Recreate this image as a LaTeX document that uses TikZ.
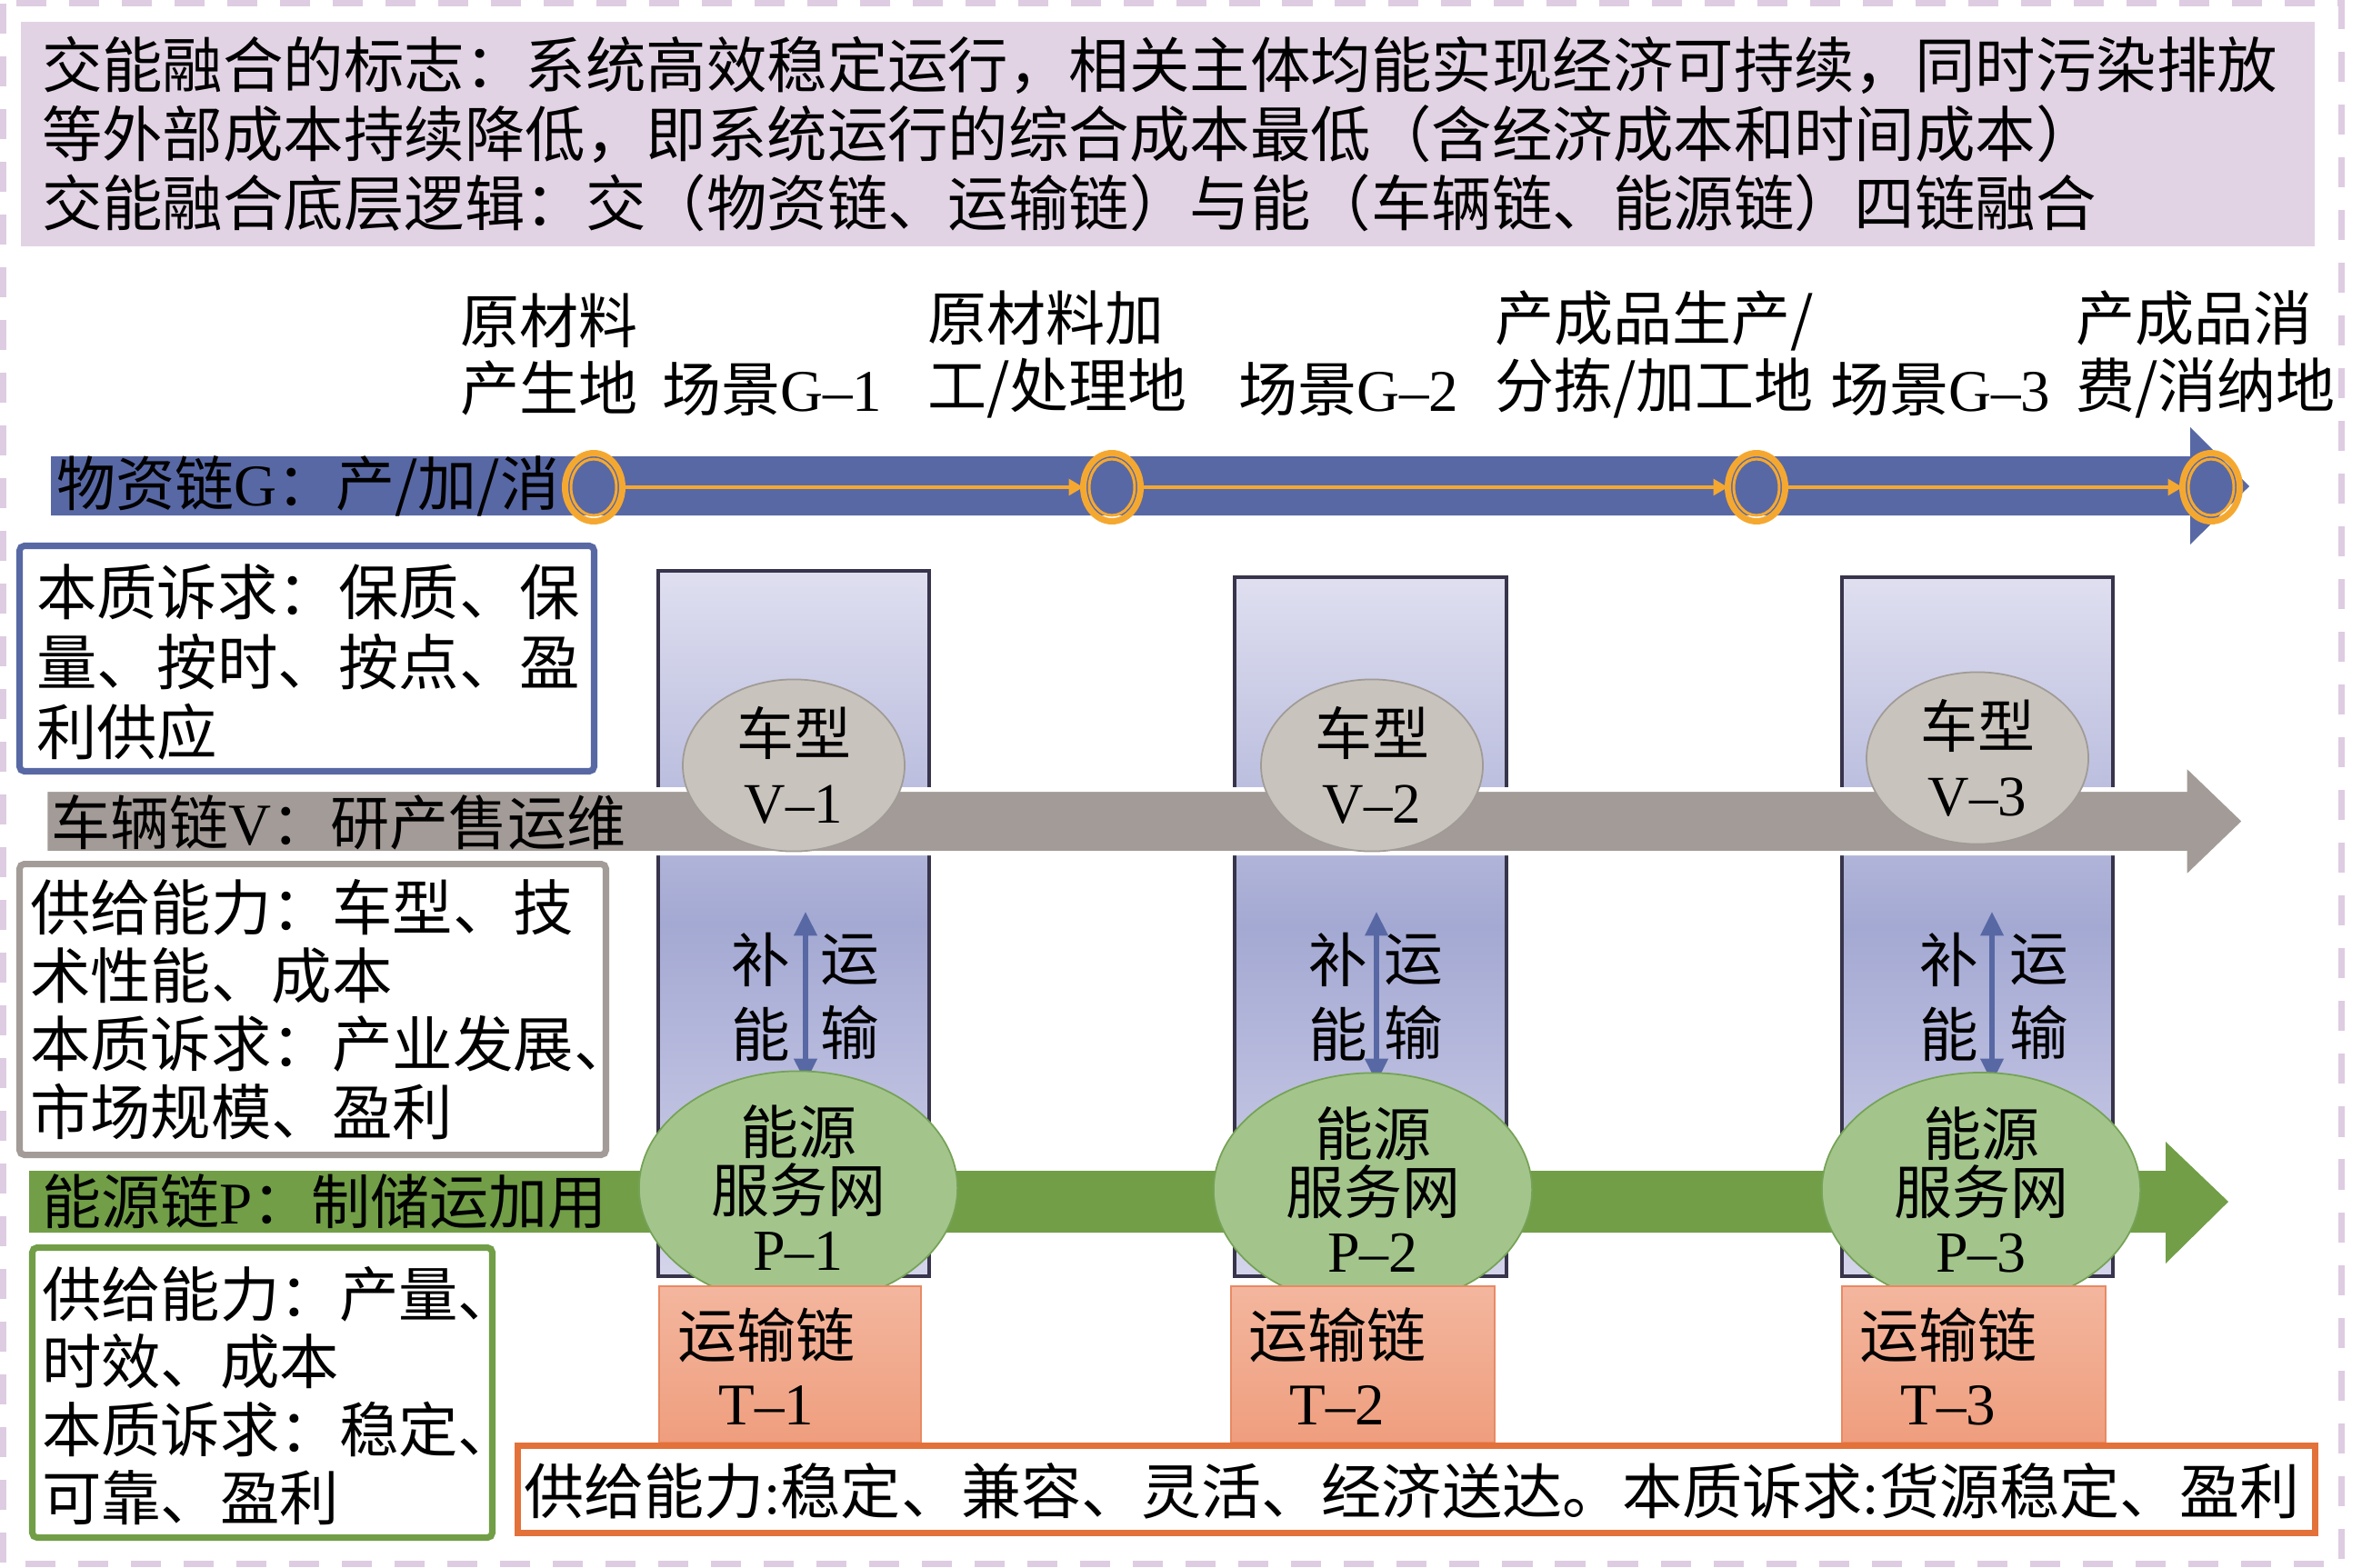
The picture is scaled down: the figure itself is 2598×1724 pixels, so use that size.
\documentclass[tikz,border=0pt]{standalone}
\usepackage{fontspec}
\setmainfont{Noto Sans CJK SC}
\newfontfamily\lat{Liberation Serif}
\usetikzlibrary{arrows.meta,shapes.geometric,fit}
\definecolor{lilac}{RGB}{226,211,228}
\definecolor{dashc}{RGB}{222,204,226}
\definecolor{chainblue}{RGB}{88,104,164}
\definecolor{chaingray}{RGB}{163,155,151}
\definecolor{chaingreen}{RGB}{113,158,71}
\definecolor{ringorange}{RGB}{245,168,48}
\definecolor{salmon}{RGB}{239,158,126}
\definecolor{salmontop}{RGB}{243,182,158}
\definecolor{salmonb}{RGB}{232,138,100}
\definecolor{borderorange}{RGB}{227,113,58}
\definecolor{colborder}{RGB}{55,52,75}
\definecolor{coltop}{RGB}{223,223,240}
\definecolor{colmid}{RGB}{164,169,211}
\definecolor{colbot}{RGB}{212,212,235}
\definecolor{ellgray}{RGB}{201,195,189}
\definecolor{ellgrayb}{RGB}{160,155,150}
\definecolor{ellgreen}{RGB}{163,197,140}
\definecolor{ellgreenb}{RGB}{118,162,86}
\newcommand{\fsTop}{\fontsize{18.9pt}{21.6pt}\selectfont}
\newcommand{\fsMain}{\fontsize{18.5pt}{21pt}\selectfont}
\newcommand{\fsBox}{\fontsize{18.9pt}{21.9pt}\selectfont}
\newcommand{\fsBoxB}{\fontsize{18.9pt}{21.3pt}\selectfont}
\newcommand{\fsBoxC}{\fontsize{18.6pt}{21.3pt}\selectfont}
\newcommand{\fsSum}{\fontsize{18.8pt}{21.3pt}\selectfont}
\newcommand{\fsVeh}{\fontsize{17.9pt}{21.3pt}\selectfont}
\newcommand{\fsNet}{\fontsize{18.2pt}{18.2pt}\selectfont}
\newcommand{\fsSide}{\fontsize{18.4pt}{23.3pt}\selectfont}
\newcommand{\fsTrans}{\fontsize{18.5pt}{21pt}\selectfont}
\begin{document}
\begin{tikzpicture}[x=0.01cm,y=-0.01cm,
  txt/.style={inner sep=0pt,outer sep=0pt,text=black},
  lbl/.style={txt,anchor=west,align=left,font=\fsMain},
  ring/.style={ellipse,draw=ringorange,line width=2pt,minimum width=17.9pt,minimum height=21.3pt,inner sep=0pt,outer sep=0pt},
  innerring/.style={draw=ringorange,line width=0.85pt},
  flowline/.style={ringorange,line width=1pt,-{Triangle[length=4.5pt,width=5pt]}},
  colbox/.style={inner sep=0pt,outer sep=0pt,draw=colborder,line width=1.1pt,top color=coltop,bottom color=colbot,middle color=colmid},
  vell/.style={ellipse,fill=ellgray,draw=ellgrayb,line width=0.5pt,minimum width=69.4pt,minimum height=53.8pt,inner sep=0pt,align=center,font=\fsVeh},
  pell/.style={ellipse,fill=ellgreen,draw=ellgreenb,line width=0.5pt,minimum width=99.6pt,minimum height=54pt,inner sep=0pt,align=center,font=\fsNet},
  sidetxt/.style={txt,align=center,font=\fsSide},
  dblarrow/.style={chainblue,line width=1.5pt,{Triangle[length=7.5pt,width=7pt]}-{Triangle[length=7.5pt,width=7pt]}},
  tbox/.style={inner sep=0pt,outer sep=0pt,draw=salmonb,line width=0.5pt,top color=salmontop,bottom color=salmon},
  ttxt/.style={txt,align=center,font=\fsTrans},
  sidebox/.style={inner sep=0pt,outer sep=0pt,fill=white,line width=2pt,rounded corners=1.5pt}
]
\useasboundingbox (0,0) rectangle (2598,1724);
% outer dashed frame
\draw[dashc,line width=2pt,dash pattern=on 9.4pt off 7.1pt] (3.5,3.5) rectangle (2575.5,1720);

% title box
\node[fit={(23,24) (2546,271)},inner sep=0pt,fill=lilac] (topbox) {};
\node[txt,anchor=west,align=left,font=\fsTop] (toptext) at (46,147.5)
  {交能融合的标志：系统高效稳定运行，相关主体均能实现经济可持续，同时污染排放\\
   等外部成本持续降低，即系统运行的综合成本最低（含经济成本和时间成本）\\
   交能融合底层逻辑：交（物资链、运输链）与能（车辆链、能源链）四链融合};

% stage labels
\node[lbl] (h1) at (506,390) {原材料\\产生地};
\node[lbl] (s1) at (728,428) {场景{\lat G–1}};
\node[lbl] (h2) at (1020,390) {原材料加\\工/处理地};
\node[lbl] (s2) at (1362,428) {场景{\lat G–2}};
\node[lbl] (h3) at (1644,390) {产成品生产/\\分拣/加工地};
\node[lbl] (s3) at (2013,428) {场景{\lat G–3}};
\node[lbl] (h4) at (2283,390) {产成品消\\费/消纳地};

% material chain arrow
\fill[chainblue] (56,502) -- (2409,502) -- (2409,470) -- (2474,535) -- (2409,599) -- (2409,567) -- (56,567) -- cycle;
\node[lbl] (gchain) at (62,535) {物资链{\lat G}：产/加/消};
\node[ring] (g1) at (653,536) {};
\node[ring] (g2) at (1223,536) {};
\node[ring] (g3) at (1932,536) {};
\node[ring] (g4) at (2432,536) {};
\foreach \g in {g1,g2,g3,g4}{\draw[innerring] (\g.center) ellipse [x radius=7.1pt,y radius=8.8pt];}
\draw[flowline] (g1) -- (g2);
\draw[flowline] (g2) -- (g3);
\draw[flowline] (g3) -- (g4);

% scenario columns
\node[colbox,fit={(724,628) (1022,1404)}] (col1) {};
\node[colbox,fit={(1358,635) (1657,1404)}] (col2) {};
\node[colbox,fit={(2026,635) (2324,1404)}] (col3) {};

% vehicle chain arrow
\path[fill=chaingray,draw=white,line width=1.42pt] (50,868.5) -- (2403,868.5) -- (2403,840) -- (2469,903.5) -- (2403,967) -- (2403,938.5) -- (50,938.5) -- cycle;
\node[lbl] (vchain) at (56,905) {车辆链{\lat V}：研产售运维};
\node[vell] (v1) at (873,842) {车型\\{\lat V–1}};
\node[vell] (v2) at (1509,842) {车型\\{\lat V–2}};
\node[vell] (v3) at (2175,834) {车型\\{\lat V–3}};

% refuel / transport arrows
\coordinate (a1t) at (886,1003); \coordinate (a1b) at (886,1191);
\coordinate (a2t) at (1514,1003); \coordinate (a2b) at (1514,1191);
\coordinate (a3t) at (2191,1003); \coordinate (a3b) at (2191,1191);
\draw[dblarrow] (a1t) -- (a1b);
\draw[dblarrow] (a2t) -- (a2b);
\draw[dblarrow] (a3t) -- (a3b);
\node[sidetxt] (bn1) at (837,1097) {补\\能};
\node[sidetxt] (ys1) at (935,1097) {运\\输};
\node[sidetxt] (bn2) at (1472,1097) {补\\能};
\node[sidetxt] (ys2) at (1555,1097) {运\\输};
\node[sidetxt] (bn3) at (2144,1097) {补\\能};
\node[sidetxt] (ys3) at (2243,1097) {运\\输};

% energy chain arrow
\fill[chaingreen] (32,1288) -- (2382,1288) -- (2382,1256) -- (2451,1322) -- (2382,1390) -- (2382,1356) -- (32,1356) -- cycle;
\node[lbl] (pchain) at (46,1322) {能源链{\lat P}：制储运加用};
\node[pell] (p1) at (878,1307) {能源\\服务网\\{\lat P–1}};
\node[pell] (p2) at (1510,1309) {能源\\服务网\\{\lat P–2}};
\node[pell] (p3) at (2179,1309) {能源\\服务网\\{\lat P–3}};

% transport chain boxes
\node[tbox,fit={(725,1415) (1013,1587)}] (tb1) {};
\node[tbox,fit={(1354,1415) (1644,1587)}] (tb2) {};
\node[tbox,fit={(2026,1415) (2316,1587)}] (tb3) {};
\node[ttxt] (tt1) at (843,1503) {运输链\\{\lat T–1}};
\node[ttxt] (tt2) at (1471,1503) {运输链\\{\lat T–2}};
\node[ttxt] (tt3) at (2143,1503) {运输链\\{\lat T–3}};

% bottom transport summary
\node[sidebox,draw=borderorange,rounded corners=0pt,fit={(569.5,1590.5) (2546.5,1686.5)}] (tsum) {};
\node[txt,anchor=west,font=\fsSum] (tsumtext) at (576,1640) {供给能力{\lat :}稳定、兼容、灵活、经济送达。本质诉求{\lat :}货源稳定、盈利};

% side boxes
\node[sidebox,draw=chainblue,fit={(21.5,600.5) (653.5,848.5)}] (boxg) {};
\node[txt,anchor=west,align=left,font=\fsBox] (boxgtext) at (40,728.5) {本质诉求：保质、保\\量、按时、按点、盈\\利供应};
\node[sidebox,draw=chaingray,fit={(21.5,950.5) (666.5,1270.5)}] (boxv) {};
\node[txt,anchor=west,align=left,font=\fsBoxB] (boxvtext) at (33,1110.5) {供给能力：车型、技\\术性能、成本\\本质诉求：产业发展、\\市场规模、盈利};
\node[sidebox,draw=chaingreen,fit={(35.5,1372.5) (541.5,1691.5)}] (boxp) {};
\node[txt,anchor=west,align=left,font=\fsBoxC] (boxptext) at (46,1535.5) {供给能力：产量、\\时效、成本\\本质诉求：稳定、\\可靠、盈利};
\end{tikzpicture}
\end{document}
